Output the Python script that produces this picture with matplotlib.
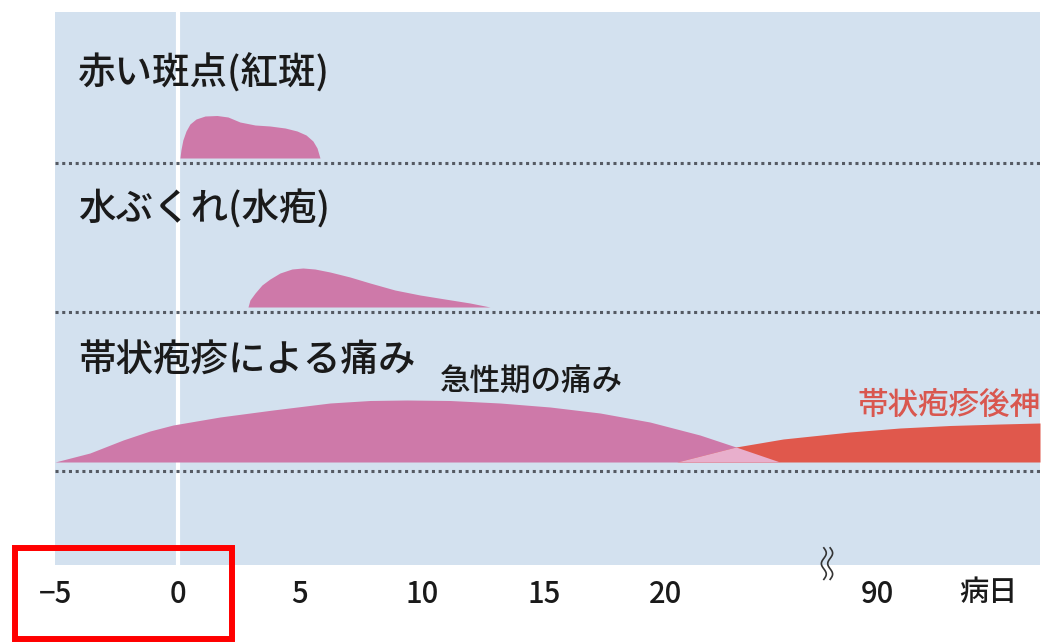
"""
帯状疱疹の経過イメージ図（紅斑・水疱・痛み）
"""
import matplotlib
matplotlib.use('Agg')
import matplotlib.pyplot as plt
import matplotlib.patches as patches
import numpy as np

plt.rcParams['font.family'] = ['Noto Sans CJK JP', 'DejaVu Sans']
plt.rcParams['font.weight'] = 500

# ---- データ（病日 / 高さ） ----
# 赤い斑点（紅斑）
rash_days = [0.08, 0.12, 0.2, 0.33, 0.49, 0.74, 1.11, 1.6, 2.05, 2.54, 3.16, 3.77,
             4.39, 4.88, 5.25, 5.53, 5.7, 5.82]
rash_h = [0, 8, 18, 27, 34, 39, 42, 42.5, 41, 36, 33, 32, 30, 27, 23, 17, 10, 0]

# 水ぶくれ（水疱）
blister_days = [2.87, 2.95, 3.16, 3.44, 3.77, 4.18, 4.67, 5.12, 5.61, 6.23, 7.05,
                7.87, 8.89, 9.92, 10.94, 11.97, 12.79]
blister_h = [0, 7, 14, 22, 28, 34, 38, 39, 38, 35, 30, 24, 17, 12, 8, 4, 0]

# 急性期の痛み
acute_days = [-5.04, -3.61, -2.25, -1.15, -0.2, 1.72, 3.89, 6.23, 7.87, 9.39, 11.15,
              13.2, 15.25, 17.3, 19.34, 21.39, 22.87, 24.67]
acute_h = [0, 9, 22, 31, 37, 45, 52, 59, 61.5, 62, 61.5, 59, 55, 49, 40, 27, 15, 0]

# 帯状疱疹後神経痛（軸上の位置）
phn_pos = [20.45, 22.87, 24.8, 27.54, 29.59, 31.64, 33.69, 35.33]
phn_h = [0, 15, 23, 30, 34, 36.5, 38, 39]

row_titles = ['赤い斑点(紅斑)', '水ぶくれ(水疱)', '帯状疱疹による痛み']
tick_pos = [-5, 0, 5, 10, 15, 20, 28.65]
tick_labels = ['−5', '0', '5', '10', '15', '20', '90']

# ---- 色 ----
panel_c = '#D3E1EF'
pink = '#CE79A9'
red = '#E0584C'
light_pink = '#E8AFCC'
dot_c = '#555A63'

fig = plt.figure(figsize=(10.42, 6.43), dpi=100)
ax = fig.add_axes([55 / 1042, 78 / 643, 985 / 1042, 553 / 643])
ax.set_facecolor(panel_c)
for s in ax.spines.values():
    s.set_visible(False)
ax.set_xlim(-5.04, 35.33)
ax.set_ylim(0, 553)

# 行の基準線
rows_base = [407, 258, 103]
dot_y = [402, 253, 94]

ax.axvline(0, color='white', lw=3, zorder=1)

ax.fill_between(rash_days, rows_base[0], np.array(rash_h) + rows_base[0],
                color=pink, lw=0, zorder=2)
ax.fill_between(blister_days, rows_base[1], np.array(blister_h) + rows_base[1],
                color=pink, lw=0, zorder=2)
ax.fill_between(acute_days, rows_base[2], np.array(acute_h) + rows_base[2],
                color=pink, lw=0, zorder=2)
ax.fill_between(phn_pos, rows_base[2], np.array(phn_h) + rows_base[2],
                color=red, lw=0, zorder=3)

# 重なり部分
xs = np.union1d(acute_days, phn_pos)
xs = xs[(xs >= phn_pos[0]) & (xs <= acute_days[-1])]
ov = np.minimum(np.interp(xs, acute_days, acute_h), np.interp(xs, phn_pos, phn_h))
ax.fill_between(xs, rows_base[2], ov + rows_base[2], color=light_pink, lw=0, zorder=4)

for y in dot_y:
    ax.axhline(y, color=dot_c, lw=2.2, linestyle=(0, (1, 1.2)),
               dash_capstyle='butt', zorder=5)

# 見出し
title_y = [492, 356, 204]
for t, y in zip(row_titles, title_y):
    ax.text(-4.1, y, t, fontsize=27, va='center', ha='left', color='#1a1a1a', zorder=6)

ax.text(10.74, 183, '急性期の痛み', fontsize=22, va='center', ha='left',
        color='#1a1a1a', zorder=6)
ax.text(27.83, 160, '帯状疱疹後神', fontsize=22, va='center', ha='left',
        color='#D9574F', zorder=6)

# x軸
ax.set_yticks([])
ax.set_xticks(tick_pos, tick_labels)
ax.tick_params(axis='x', length=0, pad=10, labelsize=21, labelcolor='#1a1a1a')
ax.text(33.2, -0.049, '病日', transform=ax.get_xaxis_transform(), fontsize=21,
        ha='center', va='center', color='#1a1a1a', clip_on=False)

# 省略記号（波線）
brk = 26.6
t = np.linspace(0, 1, 60)
for off in (-0.13, 0.13):
    ax.plot(brk + off + 0.1 * np.sin(2 * np.pi * 1.5 * t), 0.031 - 0.057 * t,
            transform=ax.get_xaxis_transform(), color='#333333', lw=1.2,
            clip_on=False, zorder=7)

# 赤い枠
fig.patches.append(patches.Rectangle((15 / 1042, 4 / 643), 217 / 1042, 91 / 643,
                                     transform=fig.transFigure, fill=False,
                                     edgecolor='#FF0000', lw=4.3, zorder=10))

plt.savefig('out.png', dpi=100)
